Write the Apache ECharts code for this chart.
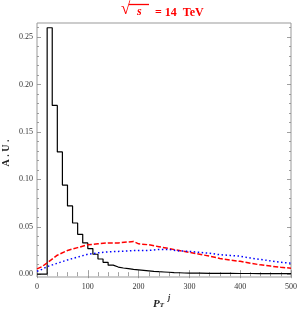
<!DOCTYPE html>
<html><head><meta charset="utf-8">
<script src="https://cdn.jsdelivr.net/npm/echarts@6/dist/echarts.min.js"></script>
<style>html,body{margin:0;padding:0;background:#fff}#c{width:300px;height:309px}</style>
</head><body><div id="c"></div>
<script>
// Black histogram: left bin edges and heights (bin width 10)
const binEdges = [0,10,20,30,40,50,60,70,80,90,100,110,120,130,140,150,160,170,180,190,200,210,220,230,240,250,260,270,280,290,300,320,340,360,380,400,420,440,460,480,500];
const blackVals = [0,0,0.260,0.178,0.129,0.094,0.072,0.054,0.042,0.033,0.027,0.021,0.016,0.0125,0.0095,0.0075,0.0065,0.0058,0.005,0.0045,0.004,0.0035,0.003,0.0026,0.0023,0.002,0.0017,0.0015,0.0012,0.0011,0.001,0.0009,0.0008,0.0008,0.0007,0.0007,0.0006,0.0006,0.0006,0.0006,0.0006];
// Red dashed and blue dotted curves
const curveX = [0,10,20,40,60,80,100,120,140,160,180,190,200,220,240,260,280,300,320,340,360,380,400,420,440,460,480,500];
const redVals = [0.0055,0.008,0.012,0.020,0.025,0.028,0.031,0.032,0.033,0.033,0.034,0.0345,0.032,0.031,0.029,0.027,0.025,0.023,0.021,0.019,0.0165,0.0148,0.0135,0.0115,0.0098,0.0085,0.0072,0.0063];
const blueVals = [0.003,0.005,0.008,0.0115,0.015,0.018,0.021,0.0225,0.0235,0.024,0.0245,0.025,0.025,0.025,0.026,0.026,0.0245,0.024,0.023,0.022,0.0205,0.0198,0.019,0.017,0.0155,0.014,0.0125,0.0115];
const yMajor = [0,0.05,0.10,0.15,0.20,0.25];
const yMinor = [0.01,0.02,0.03,0.04,0.06,0.07,0.08,0.09,0.11,0.12,0.13,0.14,0.16,0.17,0.18,0.19,0.21,0.22,0.23,0.24,0.26];
const yLabels = ['0.00','0.05','0.10','0.15','0.20','0.25'];

const serif = '"Liberation Serif","DejaVu Serif",serif';
const chart = echarts.init(document.getElementById('c'));
const Y0 = -0.003, Y1 = 0.265;
function yAx(pos, vals, len, labels){
  return {type:'value', min:Y0, max:Y1, position:pos,
    axisLine:{show:false}, splitLine:{show:false},
    axisTick:{show:true, inside:true, length:len, customValues:vals, lineStyle:{color:'#888',width:0.8}},
    axisLabel: labels ? {show:true, customValues:yMajor, fontFamily:serif, fontSize:8, color:'#333', margin:4,
      formatter:v=>yLabels[yMajor.findIndex(m=>Math.abs(m-v)<1e-9)]} : {show:false}};
}
function xAx(pos, labels){
  return {type:'value', min:0, max:500, interval:100, position:pos,
    axisLine:{show:false}, splitLine:{show:false},
    axisTick:{show:true, inside:true, length:4, lineStyle:{color:'#888',width:0.8}},
    minorTick:{show:true, splitNumber:5, length:2, lineStyle:{color:'#888',width:0.8}},
    axisLabel: labels ? {show:true, fontFamily:serif, fontSize:8, color:'#333', margin:6} : {show:false}};
}
chart.setOption({
  animation:false,
  grid:{left:37, right:8, top:23, bottom:32, show:true, borderColor:'#999', borderWidth:1, backgroundColor:'transparent'},
  xAxis:[xAx('bottom',true), xAx('top',false)],
  yAxis:[yAx('left',yMajor,4,true), yAx('left',yMinor,2,false), yAx('right',yMajor,4,false), yAx('right',yMinor,2,false)],
  series:[
    {type:'line', step:'end', data:binEdges.map((x,i)=>[x,blackVals[i]]), symbol:'none',
     lineStyle:{color:'#000',width:1.2}, xAxisIndex:0, yAxisIndex:0},
    {type:'line', data:curveX.map((x,i)=>[x,redVals[i]]), symbol:'none',
     lineStyle:{color:'#f00',width:1.5,type:[5,2]}, xAxisIndex:0, yAxisIndex:0},
    {type:'line', data:curveX.map((x,i)=>[x,blueVals[i]]), symbol:'none',
     lineStyle:{color:'#00f',width:1.5,type:[1.5,2.5]}, xAxisIndex:0, yAxisIndex:0}
  ],
  graphic:[
    {type:'text', left:121, top:1, style:{text:'√', fontFamily:serif, fontSize:17, fontWeight:'bold', fill:'#f00'}},
    {type:'line', shape:{x1:129, y1:4.5, x2:149, y2:4.5}, style:{stroke:'#f00', lineWidth:1.3}},
    {type:'text', left:137, top:6, style:{text:'s', fontFamily:serif, fontSize:12, fontStyle:'italic', fontWeight:'bold', fill:'#f00'}},
    {type:'text', left:155, top:7, style:{text:'= 14  TeV', fontFamily:serif, fontSize:12, fontWeight:'bold', fill:'#f00'}},
    {type:'text', x:6, y:153, rotation:Math.PI/2, style:{text:'A . U .', fontFamily:serif, fontSize:10, fontWeight:'bold', fill:'#222', align:'center', verticalAlign:'middle'}},
    {type:'text', left:153, top:294, style:{text:'{p|P}{t|T}{j| j}', rich:{
      p:{fontFamily:serif, fontSize:11, fontStyle:'italic', fontWeight:'bold', fill:'#222', verticalAlign:'bottom'},
      t:{fontFamily:serif, fontSize:7, fontStyle:'italic', fontWeight:'bold', fill:'#222', padding:[6,0,0,0]},
      j:{fontFamily:serif, fontSize:8, fontStyle:'italic', fontWeight:'bold', fill:'#222', padding:[0,0,8,2]}}}}
  ]
});
</script></body></html>
